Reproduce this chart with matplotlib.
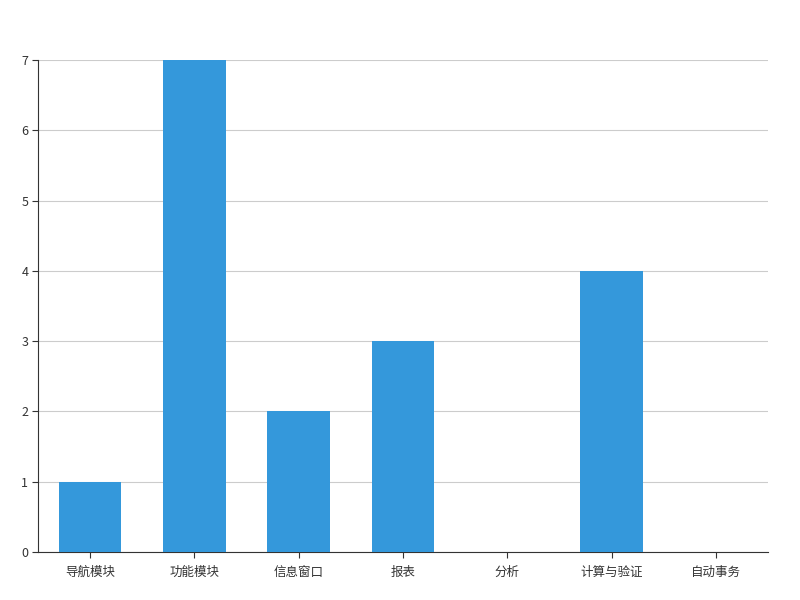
import matplotlib.pyplot as plt

plt.rcParams['font.family'] = ['Noto Sans CJK SC', 'DejaVu Sans']

categories = ['导航模块', '功能模块', '信息窗口', '报表', '分析', '计算与验证', '自动事务']
counts = [1, 7, 2, 3, 0, 4, 0]
yticks = [0, 1, 2, 3, 4, 5, 6, 7]

fig = plt.figure(figsize=(8, 6), dpi=100)
ax = fig.add_axes([0.0475, 0.08, 0.9125, 0.82])

x = range(len(categories))
ax.bar(x, counts, width=0.6, color='#3498db', zorder=3)

ax.set_xlim(-0.5, len(categories) - 0.5)
ax.set_ylim(0, 7)
ax.set_yticks(yticks)
ax.set_xticks(list(x))
ax.set_xticklabels(categories)

ax.grid(axis='y', color='#cccccc', linewidth=0.8, zorder=0)
for side in ['top', 'right']:
    ax.spines[side].set_visible(False)
ax.spines['left'].set_color('#333333')
ax.spines['bottom'].set_color('#333333')
ax.tick_params(axis='both', colors='#333333', labelsize=9, length=4, width=0.8)
ax.tick_params(axis='x', pad=6)
ax.tick_params(axis='y', pad=3)

fig.savefig('out.png', dpi=100)
